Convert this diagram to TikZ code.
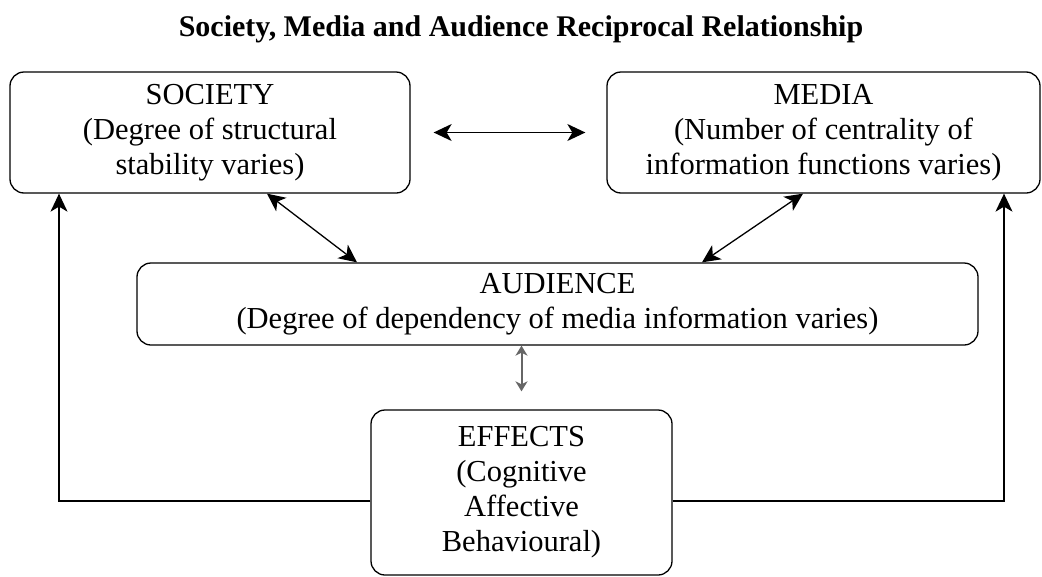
\documentclass[tikz,border=0pt]{standalone}
\usepackage{fontspec}
\setmainfont{Liberation Serif}
\usetikzlibrary{arrows.meta}

\begin{document}
\begin{tikzpicture}[x=1pt,y=-1pt,<->,>={Stealth[length=18pt,width=17pt,inset=5pt]},line width=1.3pt,
        box/.style={draw=black,rounded corners=14pt,align=center,inner sep=0pt,
          font=\fontsize{30.5}{35}\selectfont},
        small/.style={gray!80!black,line width=2pt,>={Stealth[length=10pt,width=12pt,inset=3pt]}}]
        \useasboundingbox (0,0) rectangle (1042,576);
        \node[font=\fontsize{30}{34}\selectfont\bfseries,anchor=base] (title) at (521,36)
          {Society, Media and Audience Reciprocal Relationship};
        \node[box,minimum width=400pt,minimum height=121pt] (soc) at (210,132.5)
          {SOCIETY\\(Degree of structural\\stability varies)};
        \node[box,minimum width=433pt,minimum height=121pt] (med) at (823.5,132.5)
          {MEDIA\\(Number of centrality of\\information functions varies)};
        \node[box,minimum width=841pt,minimum height=82pt] (aud) at (557.5,304)
          {AUDIENCE\\(Degree of dependency of media information varies)};
        \node[box,minimum width=301pt,minimum height=165pt] (eff) at (521.5,492.5)
          {EFFECTS\\(Cognitive\\Affective\\Behavioural)};
        \draw ([xshift=23pt]soc.east) -- ([xshift=-21pt]med.west);
        \draw ([xshift=57pt]soc.south) -- ([xshift=-200.5pt]aud.north);
        \draw ([xshift=-20.5pt]med.south) -- ([xshift=144.5pt]aud.north);
        \draw[small] (aud.south -| eff.north) -- ([yshift=18pt]eff.north);
        \draw[->] ([yshift=-8.5pt]eff.west) -| ([xshift=-151pt]soc.south);
        \draw[->] ([yshift=-8.5pt]eff.east) -| ([xshift=180.5pt]med.south);
      \end{tikzpicture}
\end{document}
